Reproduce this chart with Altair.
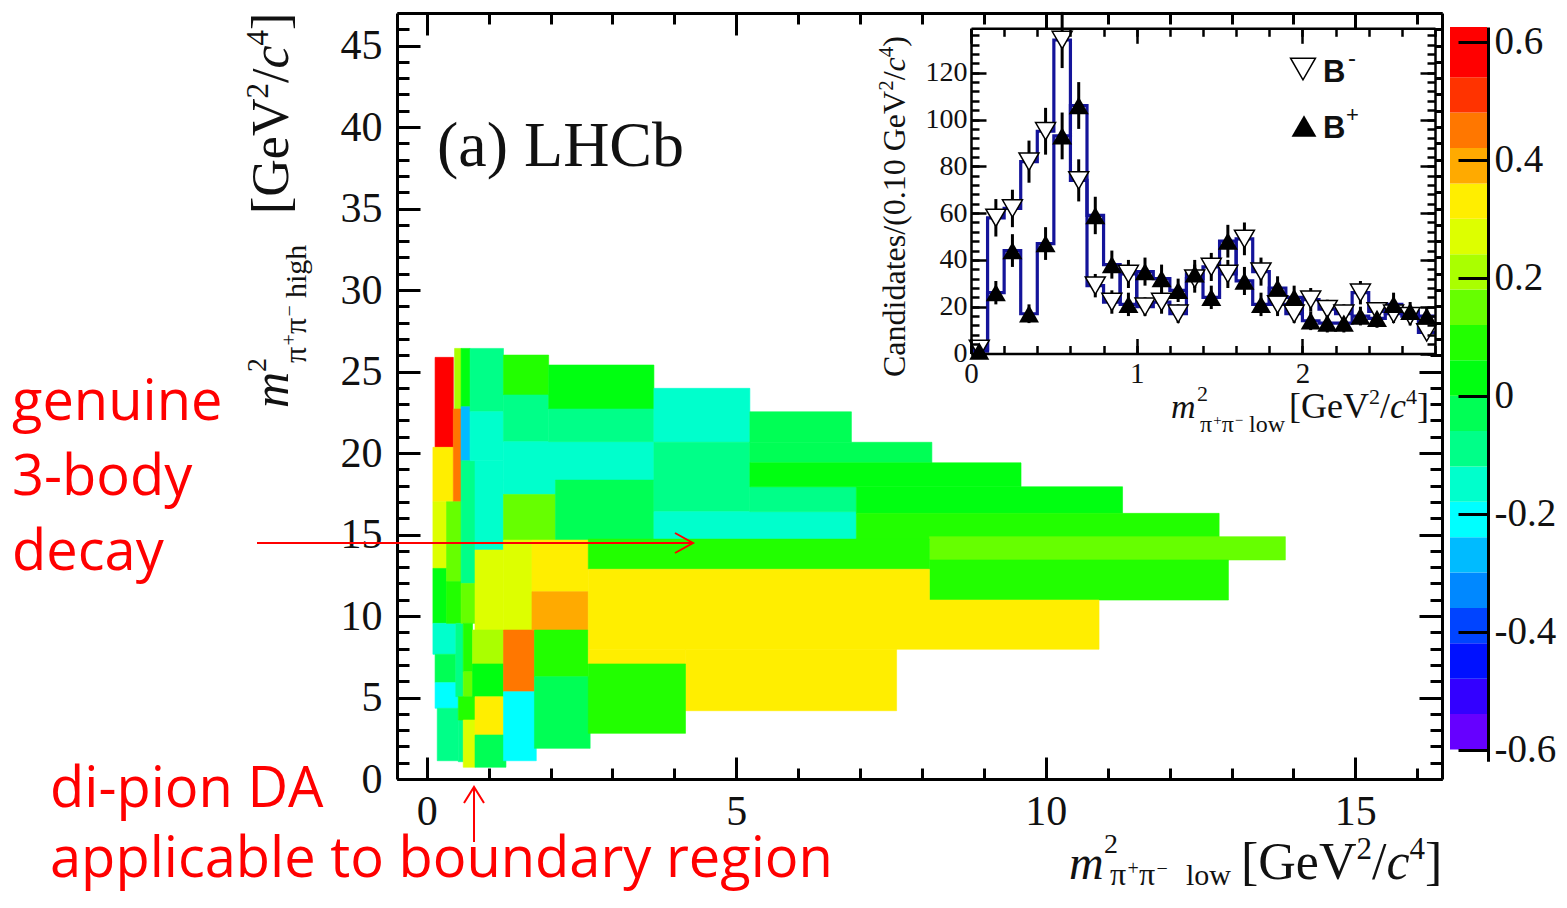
import altair as alt
import pandas as pd

# ---------------- heat-map cells (m2_low range, m2_high range, asymmetry) ----------------
cell_x0 = [0.135, 0.10, 0.10, 0.10, 0.10, 0.135, 0.135, 0.17,
           0.45, 0.43, 0.32, 0.32, 0.47, 0.51,
           0.555, 0.555, 0.555, 0.555, 0.59, 0.59, 0.51, 0.59,
           0.70, 0.70, 0.78, 0.78, 0.74, 0.74, 0.78, 0.78,
           1.24, 1.24, 1.24, 1.24, 1.24, 1.24, 1.24, 1.24,
           1.97, 1.97, 2.08, 1.70, 1.70, 1.74, 1.74,
           3.67, 3.67, 3.67, 5.22, 5.22, 5.22, 5.22, 6.94, 6.94, 8.12, 8.12,
           2.61, 2.61, 2.61, 2.61, 4.18, 2.61]
cell_x1 = [0.43, 0.43, 0.32, 0.32, 0.47, 0.47, 0.51, 0.51,
           0.555, 0.555, 0.555, 0.555, 0.59, 0.59,
           0.70, 0.70, 0.78, 0.78, 0.74, 0.74, 0.78, 0.78,
           1.24, 1.24, 1.24, 1.24, 1.24, 1.24, 1.24, 1.28,
           1.97, 1.97, 3.67, 2.08, 2.08, 1.70, 1.74, 1.77,
           3.67, 3.67, 3.67, 2.61, 2.61, 2.61, 2.64,
           5.22, 5.22, 6.94, 6.94, 6.86, 8.16, 9.60, 11.24, 12.80, 13.87, 12.95,
           8.12, 8.12, 10.86, 4.18, 7.59, 4.18]
cell_y0 = [20.35, 17.01, 12.92, 9.55, 7.65, 5.91, 4.34, 1.12,
           22.70, 17.01, 12.11, 9.55, 5.05, 1.06,
           22.84, 19.53, 12.00, 9.55, 6.58, 5.05, 3.62, 0.72,
           22.54, 19.53, 14.05, 9.14, 7.06, 5.05, 2.70, 0.72,
           23.56, 20.70, 18.34, 17.46, 14.66, 9.14, 5.36, 1.12,
           22.70, 20.70, 14.66, 11.49, 9.14, 6.28, 1.88,
           20.66, 16.40, 14.72, 16.40, 20.66, 19.40, 17.93, 16.30, 14.72, 13.44, 10.98,
           12.87, 10.98, 7.96, 7.06, 4.19, 2.80]
cell_y1 = [25.87, 20.35, 17.01, 12.92, 9.55, 7.65, 5.91, 4.34,
           26.42, 22.70, 17.01, 12.11, 9.55, 3.62,
           26.42, 22.84, 19.53, 12.00, 9.55, 6.58, 5.05, 3.62,
           26.42, 22.54, 19.53, 14.05, 9.14, 7.06, 5.05, 2.70,
           26.01, 23.56, 20.70, 18.34, 17.46, 14.66, 9.14, 5.36,
           25.40, 22.70, 18.34, 14.66, 11.49, 9.14, 6.28,
           23.97, 20.66, 16.40, 17.93, 22.53, 20.66, 19.40, 17.93, 16.30, 14.87, 13.44,
           14.72, 12.87, 10.98, 7.96, 7.96, 7.06]
cell_val = [0.57, 0.33, 0.27, 0.03, -0.15, -0.03, -0.21, -0.09,
            0.21, 0.45, 0.15, 0.09, -0.09, -0.09,
            0.03, -0.27, -0.09, 0.15, 0.09, 0.15, 0.09, 0.27,
            -0.09, -0.15, -0.15, 0.27, 0.21, 0.03, 0.33, -0.03,
            0.09, -0.09, -0.15, -0.15, 0.15, 0.27, 0.45, -0.21,
            0.03, -0.09, -0.03, 0.33, 0.39, 0.09, -0.03,
            -0.15, -0.09, -0.15, -0.09, -0.03, -0.03, 0.03, 0.03, 0.09, 0.15, 0.09,
            0.09, 0.33, 0.33, 0.33, 0.33, 0.09]

# ---------------- palette / colour bar ----------------
palette = ["#6600ff", "#3300ff", "#0011ff", "#0044ff", "#0088ff", "#00bbff", "#00ffff",
           "#00ffcc", "#00ff88", "#00ff55", "#00ff11", "#22ff00", "#66ff00", "#aaff00",
           "#ddff00", "#ffee00", "#ffaa00", "#ff7700", "#ff3300", "#ff0000"]
cb_lo = [-0.60, -0.54, -0.48, -0.42, -0.36, -0.30, -0.24, -0.18, -0.12, -0.06,
         0.00, 0.06, 0.12, 0.18, 0.24, 0.30, 0.36, 0.42, 0.48, 0.54]
cb_hi = [-0.54, -0.48, -0.42, -0.36, -0.30, -0.24, -0.18, -0.12, -0.06, 0.00,
         0.06, 0.12, 0.18, 0.24, 0.30, 0.36, 0.42, 0.48, 0.54, 0.625]
cb_mid = [-0.57, -0.51, -0.45, -0.39, -0.33, -0.27, -0.21, -0.15, -0.09, -0.03,
          0.03, 0.09, 0.15, 0.21, 0.27, 0.33, 0.39, 0.45, 0.51, 0.57]
cb_ticks = [-0.6, -0.4, -0.2, 0.0, 0.2, 0.4, 0.6]

# ---------------- inset histogram ----------------
bin_lo = [0.0, 0.1, 0.2, 0.3, 0.4, 0.5, 0.6, 0.7, 0.8, 0.9, 1.0, 1.1, 1.2, 1.3,
          1.4, 1.5, 1.6, 1.7, 1.8, 1.9, 2.0, 2.1, 2.2, 2.3, 2.4, 2.5, 2.6, 2.7]
b_minus = [2, 58, 62, 82, 95, 134, 74, 29, 22, 34, 20, 22, 17, 32,
           37, 34, 49, 35, 21, 17, 23, 19, 17, 26, 18, 17, 16, 9]
b_plus = [1, 26, 44, 17, 47, 93, 106, 59, 38, 21, 35, 32, 27, 34,
          24, 48, 31, 21, 28, 24, 14, 13, 13, 16, 15, 21, 18, 16]
b_minus_err = [1, 8, 8, 9, 10, 12, 9, 5, 5, 6, 4, 5, 4, 6,
               6, 6, 7, 6, 5, 4, 5, 4, 4, 5, 4, 4, 4, 3]
b_plus_err = [1, 5, 7, 4, 7, 10, 10, 8, 6, 5, 6, 6, 5, 6,
              5, 7, 6, 5, 5, 5, 4, 4, 4, 4, 4, 5, 4, 4]

# ---------------- tick lists ----------------
x_major = [0, 5, 10, 15]
x_minor = list(range(0, 17))
y_major = [0, 5, 10, 15, 20, 25, 30, 35, 40, 45]
y_minor = list(range(0, 48))
ins_x_major = [0, 1, 2]
ins_x_minor = [0, 0.2, 0.4, 0.6, 0.8, 1.0, 1.2, 1.4, 1.6, 1.8, 2.0, 2.2, 2.4, 2.6, 2.8]
ins_y_major = [0, 20, 40, 60, 80, 100, 120]
ins_y_minor = list(range(0, 137, 4))

# ---------------- layout / style ----------------
W, H = 1045, 766
SERIF = "Liberation Serif"
INK = "#111111"
RED = "#ff0000"
BLUE = "#14149a"

main_x = alt.Scale(domain=[-0.48, 16.4], nice=False, zero=False)
main_y = alt.Scale(domain=[0, 47], nice=False, zero=False)
ins_x = alt.Scale(domain=[0, 2.8], range=[574, 1038], nice=False, zero=False)
ins_y = alt.Scale(domain=[0, 139], range=[340.5, 15.3], nice=False, zero=False)
cb_y = alt.Scale(domain=[-0.62, 0.625], range=[748.3, 14.1], nice=False, zero=False)
col = alt.Scale(type="quantize", domain=[-0.6, 0.6], range=palette)

dummy = pd.DataFrame({"v": [0.0]})


def ax(orient, offset, values, tick=0, tw=3, domain=False, dw=3, z=0, labels=False, **kw):
    return alt.Axis(orient=orient, offset=offset, values=values, title=None, grid=False,
                    labels=labels, ticks=tick > 0, tickSize=tick, tickWidth=tw,
                    tickColor="black", domain=domain, domainWidth=dw, domainColor="black",
                    zindex=z, **kw)


def guide(xs=None, xa=None, ys=None, ya=None):
    enc = {}
    if xs is not None:
        enc["x"] = alt.X("v:Q", scale=xs, axis=xa)
    if ys is not None:
        enc["y"] = alt.Y("v:Q", scale=ys, axis=ya)
    return alt.Chart(dummy).mark_point(opacity=0).encode(**enc)


layers = []

# ---- heat map ----
cells = pd.DataFrame({"x0": cell_x0, "x1": cell_x1, "y0": cell_y0, "y1": cell_y1, "v": cell_val})
heat = alt.Chart(cells).mark_rect(strokeWidth=0.6).encode(
    x=alt.X("x0:Q", scale=main_x,
            axis=ax("bottom", 0, x_major, domain=True, dw=3, labels=True, labelFont=SERIF,
                    labelFontSize=42, labelColor=INK, labelPadding=12, labelFlush=False,
                    labelOverlap=False)),
    x2="x1:Q",
    y=alt.Y("y0:Q", scale=main_y,
            axis=ax("left", 0, y_major, domain=True, dw=3, labels=True, labelFont=SERIF,
                    labelFontSize=42, labelColor=INK, labelPadding=15, labelOverlap=False)),
    y2="y1:Q",
    color=alt.Color("v:Q", scale=col, legend=None),
    stroke=alt.Stroke("v:Q", scale=col, legend=None),
)
layers.append(heat)

# ---- main frame ticks (inward) ----
layers.append(guide(main_x, ax("top", -H, x_major, tick=22), main_y, ax("right", -W, y_major, tick=23)))
layers.append(guide(main_x, ax("top", -H, x_minor, tick=11), main_y, ax("right", -W, y_minor, tick=12)))
layers.append(guide(main_x, ax("bottom", -H, x_major, tick=22, domain=True),
                    main_y, ax("left", -W, y_major, tick=23, domain=True)))
layers.append(guide(main_x, ax("bottom", -H, x_minor, tick=11), main_y, ax("left", -W, y_minor, tick=12)))

# ---- inset ----
layers.append(alt.Chart(dummy).mark_rect(color="white").encode(
    x=alt.value(574), x2=alt.value(1038), y=alt.value(15.3), y2=alt.value(340.5)))

edges = bin_lo + [2.8]
hist = pd.DataFrame({
    "e": edges + edges,
    "n": b_minus + [b_minus[-1]] + b_plus + [b_plus[-1]],
    "s": ["minus"] * len(edges) + ["plus"] * len(edges),
})
layers.append(alt.Chart(hist).mark_line(interpolate="step-after", color=BLUE, strokeWidth=3.2).encode(
    x=alt.X("e:Q", scale=ins_x,
            axis=ax("bottom", 340.5 - H, ins_x_major, domain=True, dw=2.5, z=1, labels=True,
                    labelFont=SERIF, labelFontSize=29, labelColor=INK, labelPadding=6,
                    labelFlush=False, labelOverlap=False)),
    y=alt.Y("n:Q", scale=ins_y,
            axis=ax("left", -574, ins_y_major, domain=True, dw=2.5, z=1, labels=True,
                    labelFont=SERIF, labelFontSize=28, labelColor=INK, labelPadding=4,
                    labelOverlap=False)),
    detail="s:N",
))

centers = [b + 0.05 for b in bin_lo]
pts = pd.DataFrame({
    "c": centers,
    "m": b_minus, "m_lo": [a - e for a, e in zip(b_minus, b_minus_err)],
    "m_hi": [a + e for a, e in zip(b_minus, b_minus_err)],
    "p": b_plus, "p_lo": [a - e for a, e in zip(b_plus, b_plus_err)],
    "p_hi": [a + e for a, e in zip(b_plus, b_plus_err)],
})
layers.append(alt.Chart(pts).mark_rule(color="black", strokeWidth=3).encode(
    x=alt.X("c:Q", scale=ins_x, axis=None), y=alt.Y("m_lo:Q", scale=ins_y, axis=None), y2="m_hi:Q"))
layers.append(alt.Chart(pts).mark_rule(color="black", strokeWidth=3).encode(
    x=alt.X("c:Q", scale=ins_x, axis=None), y=alt.Y("p_lo:Q", scale=ins_y, axis=None), y2="p_hi:Q"))
layers.append(alt.Chart(pts).mark_point(shape="triangle-down", size=400, filled=True, fill="white",
                                       stroke="black", strokeWidth=1.5, opacity=1).encode(
    x=alt.X("c:Q", scale=ins_x, axis=None), y=alt.Y("m:Q", scale=ins_y, axis=None)))
layers.append(alt.Chart(pts).mark_point(shape="triangle-up", size=400, filled=True, color="black",
                                       opacity=1).encode(
    x=alt.X("c:Q", scale=ins_x, axis=None), y=alt.Y("p:Q", scale=ins_y, axis=None)))

# inset ticks
layers.append(guide(ins_x, ax("top", -340.5, ins_x_major, tick=15, tw=2.5, z=1),
                    ins_y, ax("right", 574 - W, ins_y_major, tick=15, tw=2.5, z=1)))
layers.append(guide(ins_x, ax("top", -340.5, ins_x_minor, tick=8, tw=2.5, z=1),
                    ins_y, ax("right", 574 - W, ins_y_minor, tick=8, tw=2.5, z=1)))
layers.append(guide(ins_x, ax("bottom", 15.3 - H, ins_x_major, tick=15, tw=2.5, domain=True, dw=2.5, z=1),
                    ins_y, ax("left", -1038, ins_y_major, tick=15, tw=2.5, domain=True, dw=2.5, z=1)))
layers.append(guide(ins_x, ax("bottom", 15.3 - H, ins_x_minor, tick=8, tw=2.5, z=1),
                    ins_y, ax("left", -1038, ins_y_minor, tick=8, tw=2.5, z=1)))

# inset legend
layers.append(alt.Chart(dummy).mark_point(shape="triangle-down", size=620, filled=True, fill="white",
                                         stroke="black", strokeWidth=1.5, opacity=1).encode(
    x=alt.value(906), y=alt.value(56)))
layers.append(alt.Chart(dummy).mark_point(shape="triangle-up", size=620, filled=True, color="black",
                                         opacity=1).encode(x=alt.value(907), y=alt.value(113)))
for txt, xx, yy, fs, fw in [("B", 926, 69, 31, "bold"), ("-", 951, 53, 24, "normal"),
                            ("B", 926, 125, 31, "bold"), ("+", 949, 109, 22, "normal")]:
    layers.append(alt.Chart(dummy).mark_text(text=txt, font="Liberation Sans", fontSize=fs,
                                            fontWeight=fw, color=INK, align="left",
                                            baseline="alphabetic").encode(
        x=alt.value(xx), y=alt.value(yy)))

# ---- colour bar ----
cb = pd.DataFrame({"lo": cb_lo, "hi": cb_hi, "mid": cb_mid})
layers.append(alt.Chart(cb).mark_rect().encode(
    x=alt.value(1053), x2=alt.value(1090),
    y=alt.Y("lo:Q", scale=cb_y, axis=ax("left", -1091, cb_ticks, tick=30, tw=3, z=1)),
    y2="hi:Q",
    color=alt.Color("mid:Q", scale=col, legend=None),
))
layers.append(guide(ys=cb_y, ya=ax("right", 1091 - W, cb_ticks, domain=True, dw=3, z=1, labels=True,
                                   labelFont=SERIF, labelFontSize=39, labelColor=INK, labelPadding=6,
                                   labelOverlap=False,
                                   labelExpr="datum.value == 0 ? '0' : replace(format(datum.value, '.1f'), '\u2212', '-')")))

# ---- titles with sub/superscripts ----
TW = {" ": 0.25, "(": 0.333, ")": 0.333, "[": 0.333, "]": 0.333, "/": 0.278, ".": 0.25,
      "G": 0.722, "V": 0.722, "C": 0.667, "e": 0.444, "a": 0.444, "c": 0.444, "n": 0.5,
      "d": 0.5, "i": 0.278, "t": 0.278, "s": 0.389, "l": 0.278, "o": 0.5, "w": 0.722,
      "h": 0.5, "g": 0.5, "m": 0.722, "\u03c0": 0.55, "+": 0.564, "\u2212": 0.564}


def width(s):
    return sum(TW.get(ch, 0.5) for ch in s)


def rich(x0, y0, pieces, vertical=False):
    rows, pos = [], 0.0
    for text, size, italic, rise in pieces:
        if vertical:
            rows.append({"t": text, "s": size, "it": italic, "x": x0 - rise, "y": y0 - pos, "a": 270})
        else:
            rows.append({"t": text, "s": size, "it": italic, "x": x0 + pos, "y": y0 - rise, "a": 0})
        pos += width(text) * size
    return rows


PI, MINUS = "\u03c0", "\u2212"
unit_big = [("[GeV", 52, False, 0), ("2", 31, False, 20), ("/", 52, False, 0),
            ("c", 52, True, 0), ("4", 31, False, 20), ("]", 52, False, 0)]
unit_small = [("[GeV", 36, False, 0), ("2", 22, False, 14), ("/", 36, False, 0),
              ("c", 36, True, 0), ("4", 22, False, 14), ("]", 36, False, 0)]
pipi_big = [(PI, 32, False, 0), ("+", 20, False, 10), (PI, 32, False, 0), (MINUS, 20, False, 10)]
pipi_small = [(PI, 24, False, 0), ("+", 15, False, 7), (PI, 24, False, 0), (MINUS, 15, False, 7)]

rows = []
# main x title
rows += rich(672, 866, [("m", 48, True, 0)])
rows += rich(707, 840, [("2", 28, False, 0)])
rows += rich(713, 872, pipi_big)
rows += rich(789, 872, [("low", 30, False, 0)])
rows += rich(844, 866, unit_big)
# main y title (rotated)
rows += rich(-109, 395, [("m", 50, True, 0)], True)
rows += rich(-131, 359, [("2", 28, False, 0)], True)
rows += rich(-91, 350, pipi_big, True)
rows += rich(-91, 285, [("high", 30, False, 0)], True)
rows += rich(-109, 201, unit_big, True)
# inset x title
rows += rich(774, 405, [("m", 34, True, 0)])
rows += rich(800, 388, [("2", 22, False, 0)])
rows += rich(803, 419, pipi_small)
rows += rich(852, 419, [("low", 24, False, 0)])
rows += rich(892, 405, unit_small)
# inset y title
rows += rich(508, 364, [("Candidates/(0.10 GeV", 32, False, 0), ("2", 21, False, 12), ("/", 32, False, 0),
                        ("c", 32, True, 0), ("4", 21, False, 12), (")", 32, False, 0)], True)
# panel label
rows += rich(40, 153, [("(a) LHCb", 64, False, 0)])

tdf = pd.DataFrame(rows)
for italic in (False, True):
    sub = tdf[tdf["it"] == italic]
    layers.append(alt.Chart(sub).mark_text(font=SERIF, fontStyle="italic" if italic else "normal",
                                          align="left", baseline="alphabetic", color=INK).encode(
        x=alt.X("x:Q", scale=None, axis=None),
        y=alt.Y("y:Q", scale=None, axis=None),
        text="t:N",
        size=alt.Size("s:Q", scale=None, legend=None),
        angle=alt.Angle("a:Q", scale=None),
    ))

# ---- red annotations ----
for txt, xx, yy in [("genuine", -385, 407), ("3-body", -385, 482), ("decay", -385, 557),
                    ("di-pion DA", -347, 794), ("applicable to boundary region", -347, 864)]:
    layers.append(alt.Chart(dummy).mark_text(text=txt, font="Open Sans", fontSize=56, color=RED,
                                            align="left", baseline="alphabetic").encode(
        x=alt.value(xx), y=alt.value(yy)))

layers.append(alt.Chart(dummy).mark_rule(color=RED, strokeWidth=2).encode(
    x=alt.value(-140), x2=alt.value(296), y=alt.value(530)))
layers.append(alt.Chart(dummy).mark_point(shape="M-1.8,-1L0,0L-1.8,1", size=400, filled=False,
                                         stroke=RED, strokeWidth=2, opacity=1).encode(
    x=alt.value(296), y=alt.value(530)))
layers.append(alt.Chart(dummy).mark_rule(color=RED, strokeWidth=2).encode(
    x=alt.value(77), y=alt.value(774), y2=alt.value(829)))
layers.append(alt.Chart(dummy).mark_point(shape="M-1,1.6L0,0L1,1.6", size=400, filled=False,
                                         stroke=RED, strokeWidth=2, opacity=1).encode(
    x=alt.value(77), y=alt.value(774)))

chart = alt.layer(*layers).resolve_scale(
    x="independent", y="independent"
).resolve_axis(
    x="independent", y="independent"
).properties(
    width=W, height=H,
    padding={"left": 389, "top": 5, "right": 117, "bottom": 115},
    autosize=alt.AutoSizeParams(type="none"),
    background="white",
).configure_view(stroke=None)

chart.save("out.html", embed_options={"renderer": "svg", "actions": False})
